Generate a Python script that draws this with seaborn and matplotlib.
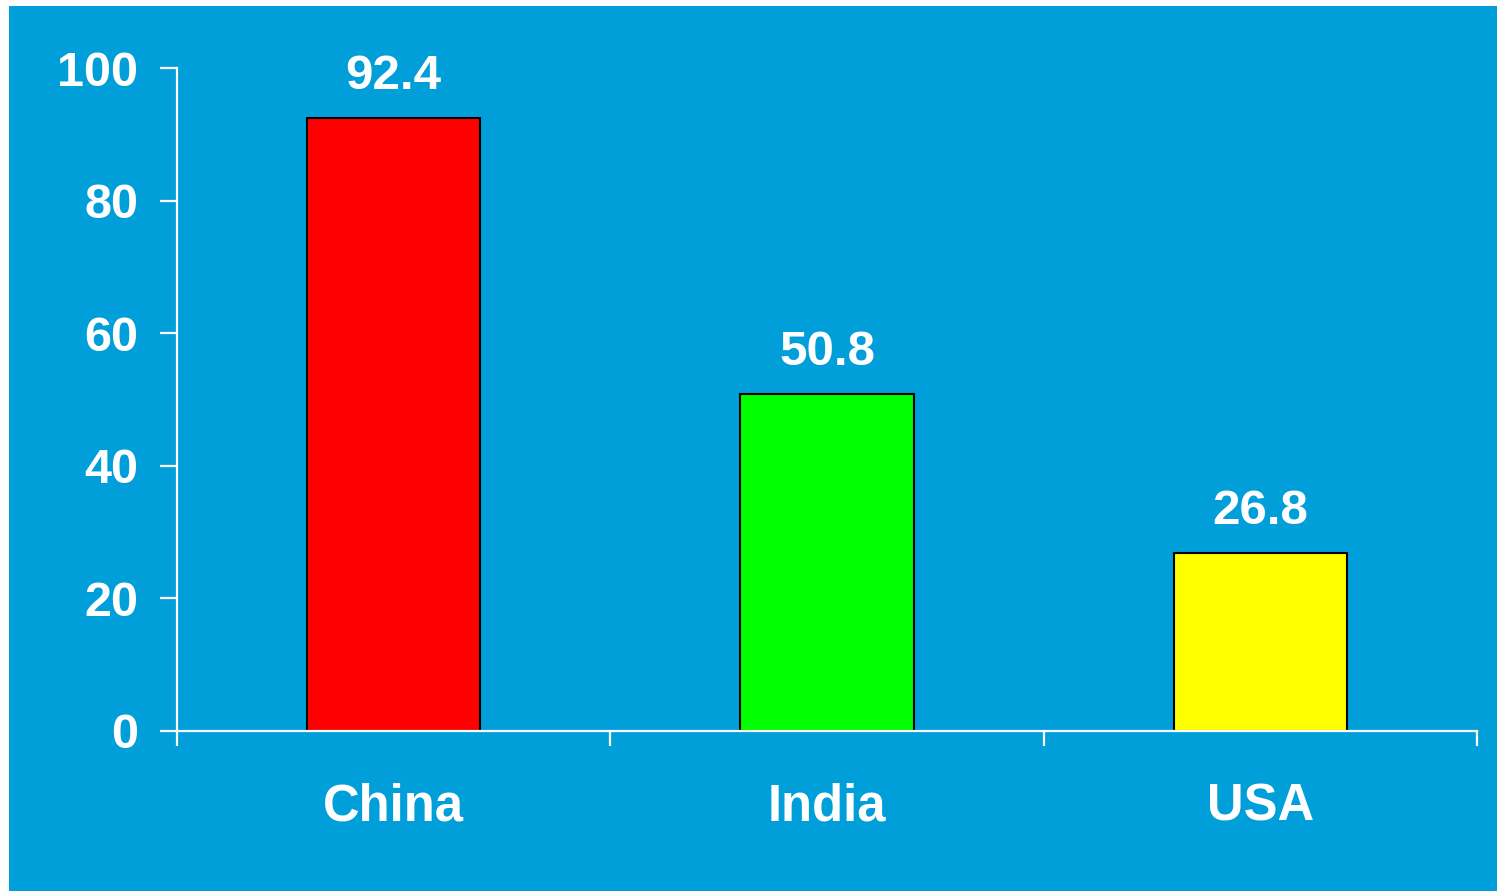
import matplotlib
matplotlib.use("Agg")
import matplotlib.pyplot as plt
import seaborn as sns
import pandas as pd
from matplotlib.patches import Rectangle

countries = ["China", "India", "USA"]
values = [92.4, 50.8, 26.8]
bar_colors = ["#FF0000", "#00FF00", "#FFFF00"]
y_ticks = [0, 20, 40, 60, 80, 100]

BG = "#009FDA"

sns.set_theme(style="white")
plt.rcParams['font.family'] = ['Liberation Sans', 'DejaVu Sans']
plt.rcParams['font.weight'] = 'bold'

fig = plt.figure(figsize=(14.97, 8.92), dpi=100, facecolor="white")
fig.patches.append(Rectangle((9/1497, 1/892), 1 - 9/1497, (892 - 7)/892,
                             transform=fig.transFigure, facecolor=BG,
                             edgecolor="none", zorder=-10))

ax = fig.add_axes([177/1497, (892-731)/892, 1300/1497, (731-68)/892])
ax.set_facecolor("none")

df = pd.DataFrame({"country": countries, "value": values})
sns.barplot(data=df, x="country", y="value", hue="country",
            palette=bar_colors, width=0.4, edgecolor="black", linewidth=1.5,
            legend=False, ax=ax, saturation=1)

ax.set_xlim(-0.5, 2.5)
ax.set_ylim(0, 100)
ax.set_yticks(y_ticks)
ax.set_yticklabels([str(t) for t in y_ticks])
ax.set_xlabel("")
ax.set_ylabel("")

for s in ["top", "right"]:
    ax.spines[s].set_visible(False)
for s in ["left", "bottom"]:
    ax.spines[s].set_color("white")
    ax.spines[s].set_linewidth(1.6)

ax.tick_params(axis="y", which="major", left=True, length=12, width=1.6,
               color="white", labelcolor="white", labelsize=35, pad=16)
ax.set_xticks(range(len(countries)))
ax.set_xticklabels(countries)
ax.set_xticks([-0.5, 0.5, 1.5, 2.5], minor=True)
ax.tick_params(axis="x", which="major", bottom=False, length=0,
               labelcolor="white", labelsize=36.5, pad=37)
ax.tick_params(axis="x", which="minor", bottom=True, length=11, width=1.6,
               color="white")
for lbl in ax.get_xticklabels() + ax.get_yticklabels():
    lbl.set_fontweight("bold")

for i, v in enumerate(values):
    ax.annotate(f"{v}", xy=(i, v), xytext=(0, 21), textcoords="offset points",
                ha="center", va="baseline", color="white", fontsize=35.5,
                fontweight="bold", annotation_clip=False)

fig.savefig("out.png", dpi=100, facecolor="white")
